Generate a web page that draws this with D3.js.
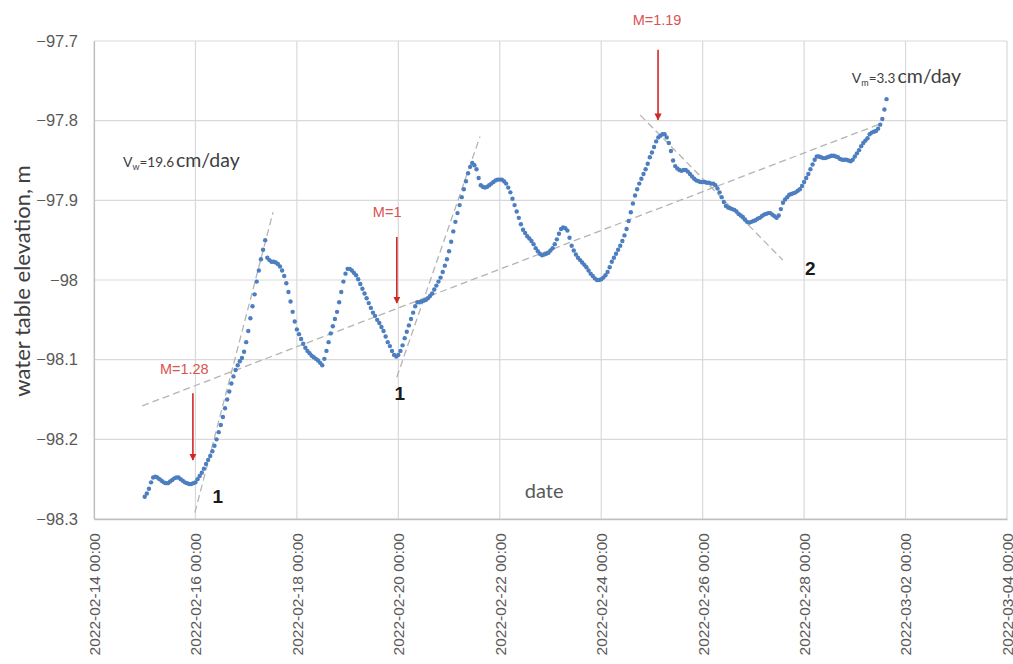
<!DOCTYPE html>
<html><head><meta charset="utf-8">
<script src="https://cdn.jsdelivr.net/npm/d3@7"></script>
<style>body{margin:0;background:#fff}svg{display:block}</style>
</head><body>
<svg id="c" width="1013" height="664"></svg>
<script>
// ---- data ----
const startTime = "2022-02-15T00:00:00Z";
const stepHours = 1;
const elevation = [
-98.272,-98.268,-98.262,-98.254,-98.248,-98.247,-98.248,-98.250,-98.252,-98.254,-98.255,-98.255,-98.253,-98.251,-98.249,-98.248,-98.248,-98.250,-98.252,-98.254,-98.255,-98.256,-98.256,-98.255,
-98.254,-98.250,-98.246,-98.242,-98.237,-98.231,-98.226,-98.221,-98.215,-98.208,-98.200,-98.191,-98.182,-98.172,-98.161,-98.150,-98.140,-98.130,-98.121,-98.113,-98.107,-98.102,-98.098,-98.090,
-98.078,-98.064,-98.048,-98.033,-98.018,-98.002,-97.988,-97.974,-97.962,-97.950,-97.972,-97.975,-97.977,-97.977,-97.978,-97.980,-97.983,-97.988,-97.995,-98.004,-98.015,-98.027,-98.040,-98.052,
-98.062,-98.068,-98.074,-98.080,-98.085,-98.089,-98.092,-98.095,-98.097,-98.099,-98.101,-98.104,-98.107,-98.099,-98.089,-98.078,-98.067,-98.058,-98.049,-98.040,-98.028,-98.015,-98.002,-97.992,
-97.986,-97.986,-97.988,-97.991,-97.994,-97.999,-98.005,-98.011,-98.017,-98.023,-98.029,-98.035,-98.041,-98.045,-98.050,-98.054,-98.059,-98.064,-98.071,-98.078,-98.083,-98.089,-98.094,-98.096,
-98.094,-98.089,-98.082,-98.073,-98.065,-98.057,-98.049,-98.041,-98.033,-98.028,-98.028,-98.027,-98.026,-98.025,-98.023,-98.020,-98.017,-98.012,-98.007,-98.002,-97.997,-97.990,-97.982,-97.974,
-97.964,-97.952,-97.939,-97.927,-97.916,-97.906,-97.896,-97.886,-97.876,-97.866,-97.858,-97.853,-97.856,-97.861,-97.872,-97.881,-97.883,-97.884,-97.883,-97.881,-97.879,-97.877,-97.875,-97.874,
-97.874,-97.874,-97.876,-97.879,-97.884,-97.890,-97.898,-97.906,-97.914,-97.922,-97.930,-97.937,-97.941,-97.945,-97.948,-97.951,-97.955,-97.960,-97.964,-97.967,-97.969,-97.968,-97.967,-97.966,
-97.963,-97.960,-97.955,-97.949,-97.942,-97.936,-97.934,-97.935,-97.938,-97.947,-97.957,-97.963,-97.968,-97.972,-97.975,-97.978,-97.981,-97.984,-97.988,-97.992,-97.995,-97.998,-98.000,-98.000,
-97.999,-97.997,-97.994,-97.990,-97.984,-97.977,-97.972,-97.967,-97.962,-97.957,-97.951,-97.944,-97.936,-97.926,-97.915,-97.904,-97.894,-97.886,-97.879,-97.873,-97.867,-97.861,-97.854,-97.846,
-97.840,-97.833,-97.826,-97.821,-97.819,-97.817,-97.817,-97.821,-97.828,-97.838,-97.850,-97.857,-97.860,-97.862,-97.863,-97.862,-97.862,-97.864,-97.867,-97.870,-97.873,-97.875,-97.876,-97.877,
-97.877,-97.877,-97.878,-97.878,-97.879,-97.879,-97.881,-97.885,-97.890,-97.896,-97.902,-97.907,-97.909,-97.910,-97.911,-97.912,-97.914,-97.917,-97.919,-97.921,-97.924,-97.927,-97.928,-97.927,
-97.926,-97.925,-97.923,-97.922,-97.920,-97.918,-97.917,-97.916,-97.916,-97.918,-97.920,-97.922,-97.919,-97.911,-97.903,-97.899,-97.896,-97.893,-97.892,-97.891,-97.890,-97.888,-97.886,-97.882,
-97.877,-97.872,-97.867,-97.861,-97.855,-97.849,-97.845,-97.845,-97.846,-97.847,-97.847,-97.846,-97.845,-97.844,-97.844,-97.845,-97.846,-97.848,-97.849,-97.849,-97.849,-97.850,-97.851,-97.849,
-97.845,-97.841,-97.837,-97.832,-97.828,-97.825,-97.822,-97.817,-97.815,-97.814,-97.813,-97.810,-97.805,-97.798,-97.786,-97.773
];
const xTickDates = ["2022-02-14","2022-02-16","2022-02-18","2022-02-20","2022-02-22","2022-02-24","2022-02-26","2022-02-28","2022-03-02","2022-03-04"];
const yTickValues = [-97.7,-97.8,-97.9,-98,-98.1,-98.2,-98.3];
// dashed trend lines: [time0, value0, time1, value1]
const trendLines = [
  ["2022-02-14T22:48Z",-98.158,"2022-03-01T13:00Z",-97.803],
  ["2022-02-15T23:45Z",-98.292,"2022-02-17T12:43Z",-97.915],
  ["2022-02-19T23:17Z",-98.122,"2022-02-21T14:38Z",-97.820],
  ["2022-02-24T18:29Z",-97.793,"2022-02-27T13:55Z",-97.975]
];
// red arrows: [label, time, fromValue, toValue, labelTime, labelValue]
const arrowNotes = [
  ["M=1.28","2022-02-15T22:48Z",-98.142,-98.226,"2022-02-15T18:43Z",-98.118],
  ["M=1","2022-02-19T23:17Z",-97.946,-98.029,"2022-02-19T18:43Z",-97.921],
  ["M=1.19","2022-02-25T02:53Z",-97.711,-97.799,"2022-02-25T02:24Z",-97.680]
];
const numberLabels = [
  ["1","2022-02-16T10:34Z",-98.272],
  ["1","2022-02-20T00:43Z",-98.142],
  ["2","2022-02-28T02:53Z",-97.985]
];
const velocityNotes = [
  ["V","w","=19.6","cm/day","2022-02-14T13:41Z",-97.858],
  ["V","m","=3.3","cm/day","2022-02-28T22:34Z",-97.753]
];

// ---- chart ----
const svg = d3.select("#c");
const L = 94, R = 1007, T = 41, B = 519;
const x = d3.scaleUtc().domain([new Date("2022-02-14T00:00:00Z"), new Date("2022-03-04T00:00:00Z")]).range([L, R]);
const y = d3.scaleLinear().domain([-98.3, -97.7]).range([B, T]);
const t0 = new Date(startTime).getTime();
const pts = elevation.map((v, i) => ({t: new Date(t0 + i * stepHours * 3600e3), v}));
const fmt = d3.utcFormat("%Y-%m-%d %H:%M");
const xTicks = xTickDates.map(s => new Date(s + "T00:00:00Z"));

// grid
svg.append("g").selectAll("line").data(yTickValues).join("line")
  .attr("x1", L).attr("x2", R).attr("y1", d => y(d)).attr("y2", d => y(d))
  .attr("stroke", "#d9d9d9").attr("stroke-width", 1.2);
svg.append("g").selectAll("line").data(xTicks).join("line")
  .attr("x1", d => x(d)).attr("x2", d => x(d)).attr("y1", T).attr("y2", B)
  .attr("stroke", "#d9d9d9").attr("stroke-width", 1.2);

// axes
const xAxis = svg.append("g").attr("transform", `translate(0,${B})`)
  .call(d3.axisBottom(x).tickValues(xTicks).tickFormat(fmt).tickSize(0).tickPadding(14));
xAxis.select(".domain").attr("stroke", "#bfbfbf").attr("stroke-width", 1.5);
xAxis.selectAll("text")
  .attr("font-family", "Liberation Sans, Arial, sans-serif").attr("font-size", 15.5).attr("fill", "#595959")
  .attr("text-anchor", "end").attr("dy", "0.35em")
  .attr("transform", "rotate(-90)")
  .attr("x", -14).attr("y", 0);

const yAxis = svg.append("g").attr("transform", `translate(${L},0)`)
  .call(d3.axisLeft(y).tickValues(yTickValues).tickFormat(d => d3.format("")(+d.toFixed(1))).tickSize(0).tickPadding(16));
yAxis.select(".domain").attr("stroke", "#bfbfbf").attr("stroke-width", 1.2);
yAxis.selectAll("text")
  .attr("font-family", "Liberation Sans, Arial, sans-serif").attr("font-size", 16.5).attr("fill", "#595959");

// axis titles
svg.append("text").attr("transform", `translate(21,${(T + B) / 2 + 1}) rotate(-90)`)
  .attr("text-anchor", "middle").attr("dominant-baseline", "central")
  .attr("font-family", "Lato, sans-serif").attr("font-size", 22).attr("fill", "#404040")
  .text("water table elevation, m");
svg.append("text").attr("x", x(new Date("2022-02-22T21:00:00Z"))).attr("y", y(-98.2735))
  .attr("text-anchor", "middle").attr("font-family", "Lato, sans-serif").attr("font-size", 20).attr("fill", "#595959")
  .text("date");

// trend lines
svg.append("g").selectAll("line").data(trendLines).join("line")
  .attr("x1", d => x(new Date(d[0]))).attr("y1", d => y(d[1]))
  .attr("x2", d => x(new Date(d[2]))).attr("y2", d => y(d[3]))
  .attr("stroke", "#b4b4b4").attr("stroke-width", 1.3).attr("stroke-dasharray", "7,4");

// data points
svg.append("g").selectAll("circle").data(pts).join("circle")
  .attr("cx", d => x(d.t)).attr("cy", d => y(d.v)).attr("r", 2.2)
  .attr("fill", "#4c7ec0");

// arrows
const defs = svg.append("defs");
defs.append("marker").attr("id", "ah").attr("viewBox", "0 0 10 10").attr("refX", 9).attr("refY", 5)
  .attr("markerWidth", 4.5).attr("markerHeight", 4.5).attr("markerUnits", "strokeWidth").attr("orient", "auto")
  .append("path").attr("d", "M0,0 L10,5 L0,10 z").attr("fill", "#d02828");
const ag = svg.append("g");
ag.selectAll("line").data(arrowNotes).join("line")
  .attr("x1", d => x(new Date(d[1]))).attr("x2", d => x(new Date(d[1])))
  .attr("y1", d => y(d[2])).attr("y2", d => y(d[3]))
  .attr("stroke", "#d02828").attr("stroke-width", 1.6).attr("marker-end", "url(#ah)");
ag.selectAll("text").data(arrowNotes).join("text")
  .attr("x", d => x(new Date(d[4]))).attr("y", d => y(d[5]))
  .attr("text-anchor", "middle").attr("font-family", "Liberation Sans, Arial, sans-serif")
  .attr("font-size", 14.5).attr("fill", "#d9534f").text(d => d[0]);

// number labels
svg.append("g").selectAll("text").data(numberLabels).join("text")
  .attr("x", d => x(new Date(d[1]))).attr("y", d => y(d[2]))
  .attr("text-anchor", "middle").attr("dominant-baseline", "central")
  .attr("font-family", "Liberation Sans, Arial, sans-serif").attr("font-weight", "bold")
  .attr("font-size", 19).attr("fill", "#1a1a1a").text(d => d[0]);

// velocity notes
const vt = svg.append("g").selectAll("text").data(velocityNotes).join("text")
  .attr("x", d => x(new Date(d[4]))).attr("y", d => y(d[5]))
  .attr("font-family", "Lato, sans-serif").attr("fill", "#404040");
vt.append("tspan").attr("font-size", 14).text(d => d[0]);
vt.append("tspan").attr("font-size", 9).attr("dy", 3).text(d => d[1]);
vt.append("tspan").attr("font-size", 13.5).attr("dy", -3).text(d => d[2]);
vt.append("tspan").attr("font-size", 19.5).attr("dx", 2).text(d => d[3]);
</script>
</body></html>
